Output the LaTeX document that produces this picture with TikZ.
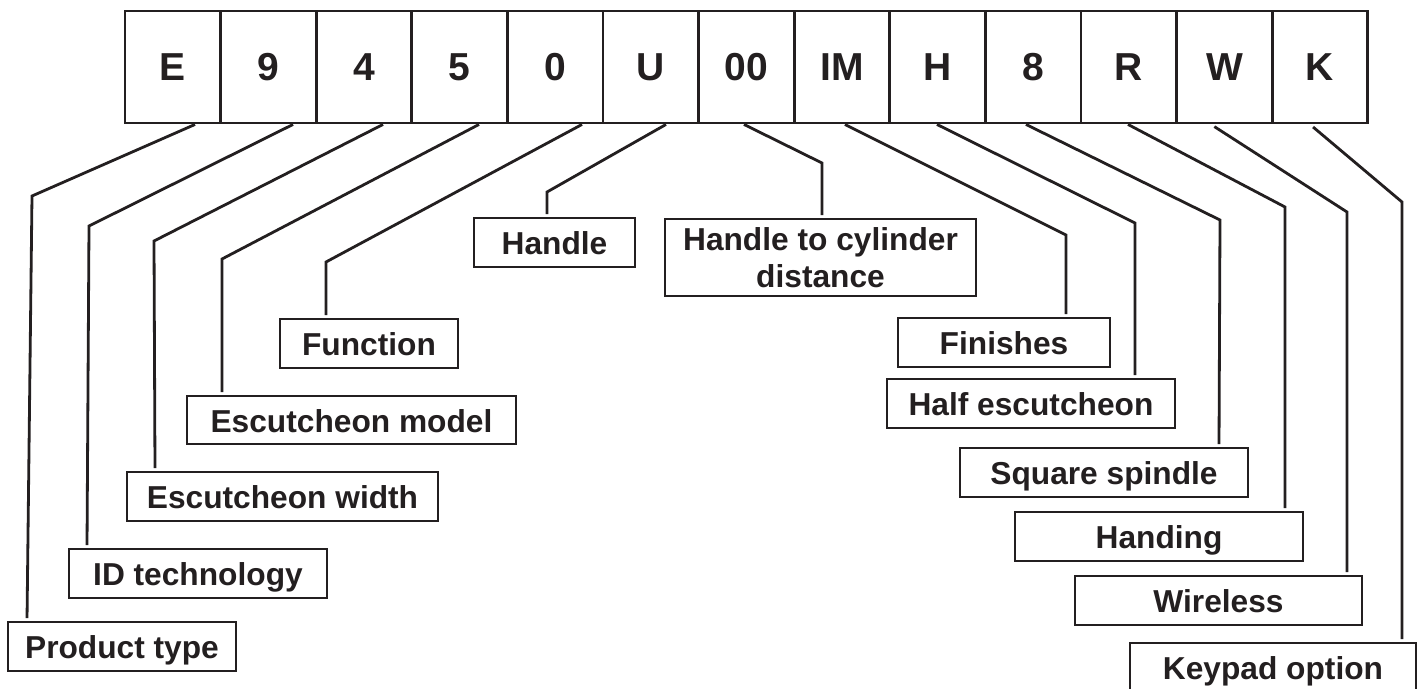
\documentclass[tikz,border=0pt]{standalone}
\usepackage{fontspec}
\setmainfont{Liberation Sans}
\definecolor{ink}{HTML}{231F20}
\begin{document}
\begin{tikzpicture}[x=1pt,y=-1pt,
  code/.style={draw=ink, line width=2.9pt, minimum width=95.6pt, minimum height=112pt,
    inner sep=0pt, text=ink, font=\fontsize{39}{44}\selectfont\bfseries},
  lblbase/.style={draw=ink, line width=2.9pt, inner sep=0pt, text=ink, align=center,
    font=\fontsize{31.7}{37.3}\selectfont\bfseries},
  lbl/.style={lblbase, text height=24pt, text depth=0pt},
  conn/.style={draw=ink, line width=2.8pt, shorten >=2.5pt, line join=miter}]
\useasboundingbox (0,0) rectangle (1421,688);
\clip (0,0) rectangle (1421,688);

% code row
\foreach \n/\t [count=\i from 0] in {E/E,9/9,4/4,5/5,0/0,U/U,00/00,IM/IM,H/H,8/8,R/R,W/W,K/K}
  \node[code] (t\n) at ({125+95.6*(\i+0.5)},67) {\t};

% labels
\node[lbl, minimum width=228pt, minimum height=49pt] (ptype)  at (122,646.5)  {Product type};
\node[lbl, minimum width=258pt, minimum height=49pt] (idtech) at (198,573.5)  {ID technology};
\node[lbl, minimum width=311pt, minimum height=49pt] (escw)   at (282.5,496.5) {Escutcheon width};
\node[lbl, minimum width=329pt, minimum height=48pt] (escm)   at (351.5,420)  {Escutcheon model};
\node[lbl, minimum width=178pt, minimum height=49pt] (func)   at (369,343.5)  {Function};
\node[lbl, minimum width=161pt, minimum height=49pt] (handle) at (554.5,242.5) {Handle};
\node[lblbase, minimum width=311pt, minimum height=77pt] (hcd) at (820.5,257.5) {Handle to cylinder\\distance};
\node[lbl, minimum width=212pt, minimum height=49pt] (fin)    at (1004,342.5) {Finishes};
\node[lbl, minimum width=288pt, minimum height=49pt] (half)   at (1031,403.5) {Half escutcheon};
\node[lbl, minimum width=288pt, minimum height=49pt] (sq)     at (1104,472.5) {Square spindle};
\node[lbl, minimum width=288pt, minimum height=49pt] (hand)   at (1159,536.5) {Handing};
\node[lbl, minimum width=287pt, minimum height=49pt] (wire)   at (1218.5,600.5) {Wireless};
\node[lbl, minimum width=286pt, minimum height=49pt] (key)    at (1273,667.5) {Keypad option};

% connectors
\draw[conn] (tE.south -| 195,0)  -- (32,196)   -- (27,0 |- ptype.north);
\draw[conn] (t9.south -| 293,0)  -- (89,226)   -- (87,0 |- idtech.north);
\draw[conn] (t4.south -| 383,0)  -- (154,241)  -- (155,0 |- escw.north);
\draw[conn] (t5.south -| 479,0)  -- (222,259)  -- (222,0 |- escm.north);
\draw[conn] (t0.south -| 582,0)  -- (326,262)  -- (326,0 |- func.north);
\draw[conn] (tU.south -| 666,0)  -- (547,192)  -- (547,0 |- handle.north);
\draw[conn] (t00.south -| 744,0) -- (822,163)  -- (822,0 |- hcd.north);
\draw[conn] (tIM.south -| 845,0) -- (1066,235) -- (1066,0 |- fin.north);
\draw[conn] (tH.south -| 937,0)  -- (1135,223) -- (1135,0 |- half.north);
\draw[conn] (t8.south -| 1026,0) -- (1220,220) -- (1219,0 |- sq.north);
\draw[conn] (tR.south -| 1128,0) -- (1285,207) -- (1285,0 |- hand.north);
\draw[conn, shorten <=4pt] (tW.south -| 1211,0) -- (1347,212) -- (1347,0 |- wire.north);
\draw[conn, shorten <=4pt] (tK.south -| 1310,0) -- (1402,202) -- (1402,0 |- key.north);
\end{tikzpicture}
\end{document}
